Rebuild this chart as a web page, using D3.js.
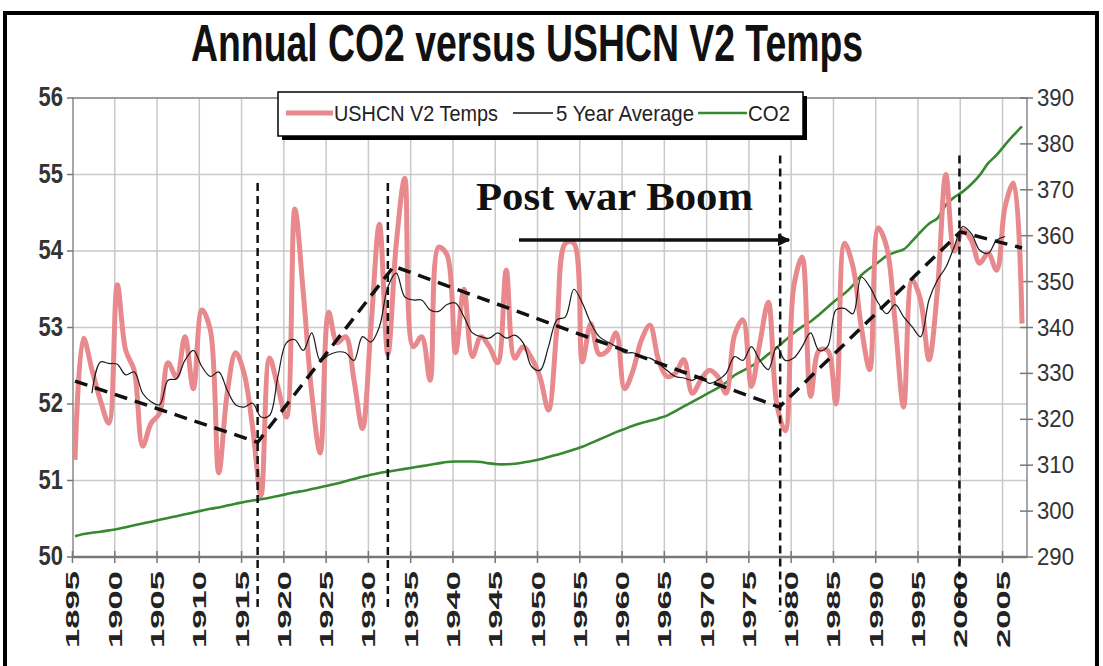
<!DOCTYPE html>
<html>
<head>
<meta charset="utf-8">
<script src="https://cdn.jsdelivr.net/npm/d3@7/dist/d3.min.js"></script>
<style>
body { margin: 0; background: #fff; }
</style>
</head>
<body>
<svg id="my_container" width="1103" height="666" font-family="'Liberation Sans', Arial, sans-serif"></svg>
<script>
var firstYear = 1895;
var temps = [
    51.27, 52.86, 52.45, 52.05, 51.75, 53.56, 52.70, 52.44, 51.45, 51.75,
    51.88, 52.54, 52.35, 52.88, 52.20, 53.23, 52.97, 51.10, 52.14, 52.67,
    52.40, 51.70, 50.80, 52.60, 52.22, 51.83, 54.55, 53.45, 52.14, 51.36,
    53.20, 52.80, 52.88, 52.31, 51.68, 53.00, 54.35, 52.65, 54.10, 54.95,
    52.75, 52.88, 52.31, 54.05, 53.95, 52.67, 53.50, 52.62, 52.88, 52.75,
    52.54, 53.75, 52.60, 52.75, 52.60, 52.35, 51.92, 53.00, 54.10, 54.10,
    52.55, 53.05, 52.65, 52.70, 52.93, 52.20, 52.44, 52.84, 53.03, 52.58,
    52.36, 52.40, 52.58, 52.14, 52.31, 52.44, 52.36, 52.14, 52.90, 53.10,
    52.23, 52.80, 53.33, 52.00, 51.65, 53.53, 53.92, 52.10, 52.70, 52.70,
    52.00, 54.10, 53.80, 53.00, 52.45, 54.30, 54.05, 53.06, 51.96, 53.62,
    53.36, 52.58, 53.49, 55.00, 54.00, 54.27, 54.14, 53.84, 53.97, 53.75,
    54.58, 54.89, 53.05
];
// 5 year average starts 1897
var avgFirstYear = 1897;
var avg5 = [
    52.14, 52.55, 52.53, 52.52, 52.38, 52.42, 52.14, 52.03, 51.99, 52.31,
    52.33, 52.57, 52.70, 52.49, 52.36, 52.42, 52.18, 51.99, 51.96, 52.01,
    51.83, 51.85, 52.36, 52.80, 52.84, 52.70, 52.93, 52.57, 52.64, 52.68,
    52.67, 52.57, 52.88, 52.81, 53.01, 53.53, 53.71, 53.40, 53.36, 53.36,
    53.23, 53.21, 53.30, 53.32, 53.14, 52.93, 52.88, 52.86, 52.93, 52.86,
    52.90, 52.80, 52.49, 52.44, 52.75, 53.10, 53.14, 53.50, 53.32, 53.06,
    52.88, 52.81, 52.75, 52.67, 52.67, 52.62, 52.60, 52.53, 52.44, 52.36,
    52.34, 52.31, 52.36, 52.27, 52.31, 52.40, 52.62, 52.57, 52.75, 52.57,
    52.45, 52.75, 52.57, 52.60, 52.75, 52.93, 52.70, 52.75, 53.23, 53.25,
    53.18, 53.66, 53.53, 53.32, 53.18, 53.30, 53.14, 53.01, 52.88, 53.36,
    53.62, 53.79, 54.06, 54.32, 54.23, 54.01, 53.97, 54.14, 54.19
];
var co2 = [
    294.5, 295.0, 295.3, 295.5, 295.8, 296.1, 296.5, 296.9, 297.3, 297.7,
    298.1, 298.5, 298.9, 299.3, 299.7, 300.1, 300.5, 300.8, 301.2, 301.6,
    302.0, 302.3, 302.6, 302.9, 303.3, 303.7, 304.1, 304.4, 304.8, 305.2,
    305.6, 306.0, 306.5, 307.0, 307.5, 307.9, 308.3, 308.6, 308.9, 309.2,
    309.5, 309.8, 310.1, 310.4, 310.7, 310.8, 310.8, 310.8, 310.7, 310.4,
    310.2, 310.2, 310.3, 310.6, 310.9, 311.3, 311.8, 312.3, 312.8, 313.4,
    314.0, 314.8, 315.6, 316.4, 317.2, 317.9, 318.6, 319.2, 319.7, 320.2,
    320.8, 321.8, 322.8, 323.8, 324.8, 325.8, 326.8, 328.0, 329.6, 330.6,
    331.6, 332.7, 334.2, 335.6, 337.2, 338.8, 340.2, 341.3, 342.8, 344.4,
    346.0, 347.4, 349.2, 351.4, 352.9, 354.2, 355.6, 356.4, 357.0, 358.8,
    360.8, 362.6, 363.8, 366.7, 368.4, 369.6, 371.2, 373.2, 375.8, 377.6,
    379.8, 381.9, 383.8
];
var xTickYears = [1895, 1900, 1905, 1910, 1915, 1920, 1925, 1930, 1935, 1940, 1945, 1950,
                  1955, 1960, 1965, 1970, 1975, 1980, 1985, 1990, 1995, 2000, 2005];
var leftTicks = [50, 51, 52, 53, 54, 55, 56];
var rightTicks = [290, 300, 310, 320, 330, 340, 350, 360, 370, 380, 390];
// hand drawn trend segments
var trendYears = [1895, 1916.6, 1932.7, 1978.3, 1999.7, 2007];
var trendValues = [52.30, 51.50, 53.80, 51.96, 54.25, 54.04];
// vertical markers
var markerYears = [1916.6, 1932.0, 1978.4, 1999.6];
var markerTops = [54.89, 54.89, 55.25, 55.25];
var markerBottom = 49.28;
var legendNames = ["USHCN V2 Temps", "5 Year Average", "CO2"];

var pink = "#e8898d";
var green = "#37892f";

var svg = d3.select("#my_container");
var plotL = 73, plotR = 1027, plotT = 98, plotB = 557;

var xScale = d3.scaleLinear().domain([1895, 2007]).range([75, 1022]);
var yLeft = d3.scaleLinear().domain([50, 56]).range([plotB, plotT]);
var yRight = d3.scaleLinear().domain([290, 390]).range([plotB, plotT]);
var gridX = function(yr){ return xScale(yr - 0.3); };

svg.append("rect").attr("width", 1103).attr("height", 666).attr("fill", "#fff");

// outer frame
svg.append("rect")
    .attr("x", 5).attr("y", 13).attr("width", 1092).attr("height", 700)
    .attr("fill", "none").attr("stroke", "#000").attr("stroke-width", 4);

// title
svg.append("text")
    .attr("transform", "translate(527,61) scale(1,1.42)")
    .attr("text-anchor", "middle")
    .attr("font-size", 36)
    .attr("font-weight", "bold")
    .attr("fill", "#111")
    .attr("textLength", 672)
    .attr("lengthAdjust", "spacingAndGlyphs")
    .text("Annual CO2 versus USHCN V2 Temps");

// grid
svg.selectAll(".hgrid").data(leftTicks).enter().append("line")
    .attr("x1", plotL).attr("x2", plotR)
    .attr("y1", function(d){ return yLeft(d); })
    .attr("y2", function(d){ return yLeft(d); })
    .attr("stroke", "#c9c9c9").attr("stroke-width", 1.5);
svg.selectAll(".vgrid").data(xTickYears.slice(1)).enter().append("line")
    .attr("x1", function(d){ return gridX(d); })
    .attr("x2", function(d){ return gridX(d); })
    .attr("y1", plotT).attr("y2", plotB)
    .attr("stroke", "#c9c9c9").attr("stroke-width", 1.5);

// plot border / axes
svg.append("rect")
    .attr("x", plotL).attr("y", plotT).attr("width", plotR - plotL).attr("height", plotB - plotT)
    .attr("fill", "none").attr("stroke", "#8a8a8a").attr("stroke-width", 1.5);
svg.append("line").attr("x1", plotL).attr("x2", plotR).attr("y1", plotB).attr("y2", plotB)
    .attr("stroke", "#777").attr("stroke-width", 2.5);

svg.selectAll(".ltick").data(leftTicks).enter().append("line")
    .attr("x1", plotL - 6).attr("x2", plotL)
    .attr("y1", function(d){ return yLeft(d); })
    .attr("y2", function(d){ return yLeft(d); })
    .attr("stroke", "#777").attr("stroke-width", 1.5);
svg.selectAll(".rtick").data(rightTicks).enter().append("line")
    .attr("x1", plotR - 7).attr("x2", plotR + 6)
    .attr("y1", function(d){ return yRight(d); })
    .attr("y2", function(d){ return yRight(d); })
    .attr("stroke", "#777").attr("stroke-width", 1.5);
svg.selectAll(".xtick").data(xTickYears).enter().append("line")
    .attr("x1", function(d){ return gridX(d); })
    .attr("x2", function(d){ return gridX(d); })
    .attr("y1", plotB - 6).attr("y2", plotB + 6)
    .attr("stroke", "#777").attr("stroke-width", 1.5);

svg.selectAll(".llab").data(leftTicks).enter().append("text")
    .attr("transform", function(d){ return "translate(63," + (yLeft(d) + 8) + ") scale(1,1.22)"; })
    .attr("text-anchor", "end")
    .attr("font-size", 22)
    .attr("font-weight", "bold")
    .attr("fill", "#333")
    .text(function(d){ return d; });
svg.selectAll(".rlab").data(rightTicks).enter().append("text")
    .attr("transform", function(d){ return "translate(1037," + (yRight(d) + 8) + ") scale(1,1.18)"; })
    .attr("font-size", 21)
    .attr("fill", "#333")
    .attr("textLength", 37)
    .attr("lengthAdjust", "spacingAndGlyphs")
    .text(function(d){ return d; });
svg.selectAll(".xlab").data(xTickYears).enter().append("text")
    .attr("transform", function(d){ return "translate(" + (gridX(d) + 7) + ",648) rotate(-90)"; })
    .attr("font-size", 19)
    .attr("font-weight", "bold")
    .attr("fill", "#222")
    .attr("textLength", 77)
    .attr("lengthAdjust", "spacingAndGlyphs")
    .text(function(d){ return d; });

// series
var tempLine = d3.line()
    .x(function(d, i){ return xScale(firstYear + i); })
    .y(function(d){ return yLeft(d); })
    .curve(d3.curveCatmullRom.alpha(0.5));
var avgLine = d3.line()
    .x(function(d, i){ return xScale(avgFirstYear + i); })
    .y(function(d){ return yLeft(d); })
    .curve(d3.curveCatmullRom.alpha(0.5));
var co2Line = d3.line()
    .x(function(d, i){ return xScale(firstYear + i); })
    .y(function(d){ return yRight(d); })
    .curve(d3.curveCatmullRom.alpha(0.5));

svg.append("path").datum(co2).attr("d", co2Line)
    .attr("fill", "none").attr("stroke", green).attr("stroke-width", 2.6);
svg.append("path").datum(temps).attr("d", tempLine)
    .attr("fill", "none").attr("stroke", pink).attr("stroke-width", 5)
    .attr("stroke-linejoin", "round");
svg.append("path").datum(avg5).attr("d", avgLine)
    .attr("fill", "none").attr("stroke", "#1a1a1a").attr("stroke-width", 1.2);

// trend dashes
var trendLine = d3.line()
    .x(function(d, i){ return xScale(trendYears[i]); })
    .y(function(d){ return yLeft(d); });
svg.append("path").datum(trendValues).attr("d", trendLine)
    .attr("fill", "none").attr("stroke", "#111").attr("stroke-width", 3.5)
    .attr("stroke-dasharray", "13,8");

// vertical markers
svg.selectAll(".marker").data(markerYears).enter().append("line")
    .attr("x1", function(d){ return xScale(d); })
    .attr("x2", function(d){ return xScale(d); })
    .attr("y1", function(d, i){ return yLeft(markerTops[i]); })
    .attr("y2", yLeft(markerBottom))
    .attr("stroke", "#111").attr("stroke-width", 2.5)
    .attr("stroke-dasharray", "8,5");

// annotation
svg.append("text")
    .attr("x", 476).attr("y", 210)
    .attr("font-family", "'Liberation Serif', 'Times New Roman', serif")
    .attr("font-size", 40)
    .attr("font-weight", "bold")
    .attr("fill", "#111")
    .attr("textLength", 277)
    .attr("lengthAdjust", "spacingAndGlyphs")
    .text("Post war Boom");
svg.append("defs").append("marker")
    .attr("id", "arrow").attr("viewBox", "0 0 10 10")
    .attr("refX", 9).attr("refY", 5)
    .attr("markerWidth", 3.6).attr("markerHeight", 3.6)
    .attr("orient", "auto")
    .append("path").attr("d", "M0,0 L10,5 L0,10 z").attr("fill", "#111");
svg.append("line")
    .attr("x1", 519).attr("x2", 789).attr("y1", 240).attr("y2", 240)
    .attr("stroke", "#111").attr("stroke-width", 3.5)
    .attr("marker-end", "url(#arrow)");

// legend
var legend = svg.append("g");
legend.append("rect").attr("x", 282).attr("y", 96).attr("width", 525).attr("height", 44).attr("fill", "#000");
legend.append("rect").attr("x", 278).attr("y", 92).attr("width", 525).attr("height", 44)
    .attr("fill", "#fff").attr("stroke", "#000").attr("stroke-width", 1.5);
var legendItems = [
    {lx1: 286, lx2: 333, tx: 334, col: pink, w: 5, tl: 164},
    {lx1: 513, lx2: 553, tx: 556, col: "#111", w: 1.3, tl: 138},
    {lx1: 698, lx2: 747, tx: 748, col: green, w: 2.6, tl: 42}
];
legendItems.forEach(function(it, i){
    legend.append("line").attr("x1", it.lx1).attr("x2", it.lx2).attr("y1", 113).attr("y2", 113)
        .attr("stroke", it.col).attr("stroke-width", it.w);
    legend.append("text")
        .attr("transform", "translate(" + it.tx + ",121) scale(1,1.25)")
        .attr("font-size", 18)
        .attr("fill", "#222")
        .attr("textLength", it.tl)
        .attr("lengthAdjust", "spacingAndGlyphs")
        .text(legendNames[i]);
});
</script>
</body>
</html>
